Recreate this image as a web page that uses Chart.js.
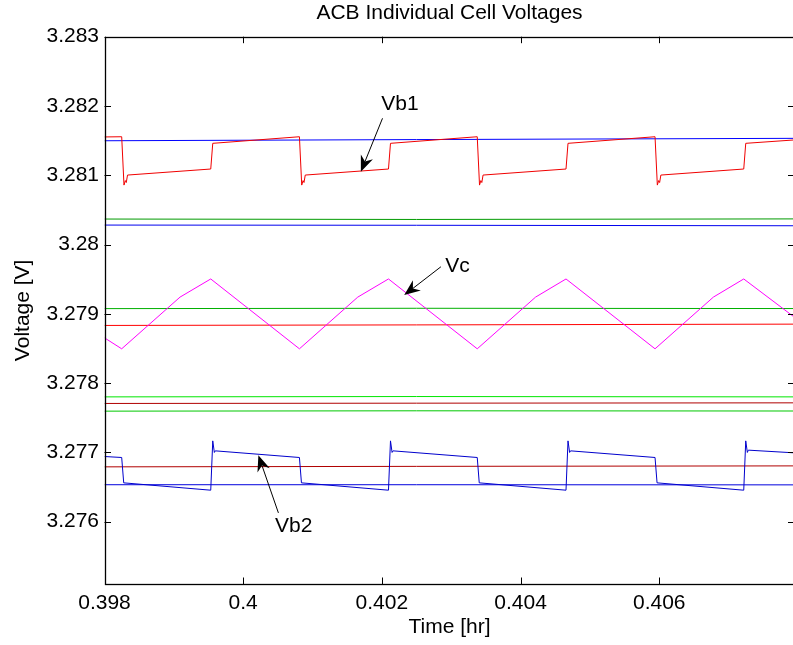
<!DOCTYPE html>
<html>
<head>
<meta charset="utf-8">
<title>ACB Individual Cell Voltages</title>
<script src="https://cdn.jsdelivr.net/npm/chart.js@4/dist/chart.umd.min.js"></script>
<style>
  html, body { margin: 0; padding: 0; background: #fff; overflow: hidden; }
  #cellChart { display: block; }
</style>
</head>
<body>
<canvas id="cellChart" width="800" height="645"></canvas>
<script>
// Ejes
const xTicks = [0.398, 0.4, 0.402, 0.404, 0.406];
const yTicks = [3.276, 3.277, 3.278, 3.279, 3.28, 3.281, 3.282, 3.283];
const xMin = 0.398, xMax = 0.40795;
const yMin = 3.2751, yMax = 3.283;

// Celda Vb1 (diente de sierra superior)
const vb1Time = [0.398, 0.398248, 0.398281, 0.398300, 0.398314, 0.398332, 0.399532, 0.399561,
  0.400811, 0.400844, 0.400863, 0.400877, 0.400895, 0.402095, 0.402124,
  0.403375, 0.403408, 0.403427, 0.403441, 0.403459, 0.404655, 0.404684,
  0.405939, 0.405972, 0.405991, 0.406005, 0.406023, 0.407218, 0.407247, 0.40795];
const vb1Volt = [3.281553, 3.281556, 3.280858, 3.280923, 3.280895, 3.281003, 3.281090, 3.281461,
  3.281556, 3.280858, 3.280923, 3.280895, 3.281003, 3.281090, 3.281461,
  3.281556, 3.280858, 3.280923, 3.280895, 3.281003, 3.281090, 3.281461,
  3.281556, 3.280858, 3.280923, 3.280895, 3.281003, 3.281090, 3.281461, 3.281510];

// Celda Vb2 (diente de sierra inferior)
const vb2Time = [0.398, 0.398248, 0.398277, 0.399532, 0.399561, 0.399584, 0.399598,
  0.400811, 0.400840, 0.402095, 0.402124, 0.402147, 0.402161,
  0.403375, 0.403404, 0.404655, 0.404684, 0.404707, 0.404721,
  0.405939, 0.405968, 0.407218, 0.407247, 0.407270, 0.407284, 0.40795];
const vb2Volt = [3.276940, 3.276926, 3.276560, 3.276454, 3.277166, 3.276999, 3.277022,
  3.276926, 3.276560, 3.276454, 3.277166, 3.276999, 3.277022,
  3.276926, 3.276560, 3.276454, 3.277166, 3.276999, 3.277022,
  3.276926, 3.276560, 3.276454, 3.277166, 3.276999, 3.277032, 3.276993];

// Condensador Vc (triangular)
const vcTime = [0.398, 0.398248, 0.399089, 0.399532, 0.400811, 0.401652, 0.402095,
  0.403375, 0.404216, 0.404655, 0.405939, 0.406780, 0.407218, 0.40795];
const vcVolt = [3.278653, 3.278495, 3.279241, 3.279503, 3.278495, 3.279241, 3.279503,
  3.278495, 3.279241, 3.279503, 3.278495, 3.279241, 3.279503, 3.278950];

// Resto de celdas (casi constantes)
const flatTime = [0.398, 0.4025, 0.40795];
const blueTopVolt = [3.281498, 3.281515, 3.281533];
const green1Volt = [3.280368, 3.280362, 3.280370];
const blue2Volt = [3.280281, 3.280278, 3.280271];
const green2Volt = [3.279075, 3.279080, 3.279076];
const red1Volt = [3.278832, 3.278840, 3.278851];
const green3Volt = [3.277801, 3.277806, 3.277801];
const darkRed1Volt = [3.277706, 3.277710, 3.277715];
const green4Volt = [3.277595, 3.277600, 3.277597];
const darkRed2Volt = [3.276791, 3.276798, 3.276805];
const blue3Volt = [3.276533, 3.276533, 3.276531];

// Etiquetas con flecha: [texto, t texto, V texto, t cola, V cola, t punta, V punta]
const arrowNotes = [
  ['Vb1', 0.401990, 3.281942, 0.402009, 3.281822, 0.401697, 3.281051],
  ['Vc', 0.402914, 3.279607, 0.402851, 3.279679, 0.402322, 3.279270],
  ['Vb2', 0.400460, 3.275852, 0.400508, 3.276126, 0.400219, 3.276960]
];

const FONT = '"Liberation Sans", Arial, Helvetica, sans-serif';
const FS = 21;

function pts(ts, vs) {
  return ts.map((t, i) => ({ x: t, y: vs[i] }));
}

function line(label, ts, vs, color) {
  return {
    label: label,
    data: pts(ts, vs),
    borderColor: color,
    borderWidth: 1,
    pointRadius: 0,
    showLine: true,
    tension: 0
  };
}

const datasets = [
  line('Vc', vcTime, vcVolt, '#ff00ff'),
  line('Vb1', vb1Time, vb1Volt, '#f00000'),
  line('Vb2', vb2Time, vb2Volt, '#0000cc'),
  line('c1', flatTime, blueTopVolt, '#0000ff'),
  line('c2', flatTime, green1Volt, '#009a00'),
  line('c3', flatTime, blue2Volt, '#0000ee'),
  line('c4', flatTime, green2Volt, '#00b000'),
  line('c5', flatTime, red1Volt, '#ff0000'),
  line('c6', flatTime, green3Volt, '#00e600'),
  line('c7', flatTime, darkRed1Volt, '#b00000'),
  line('c8', flatTime, green4Volt, '#00c800'),
  line('c9', flatTime, darkRed2Volt, '#b00000'),
  line('c10', flatTime, blue3Volt, '#0000dd')
];

// Caja del eje, marcas hacia dentro y flechas de anotación
const boxPlugin = {
  id: 'boxPlugin',
  afterDatasetsDraw(chart) {
    const ctx = chart.ctx;
    const a = chart.chartArea;
    const xs = chart.scales.x, ys = chart.scales.y;
    const L = 6.5;
    ctx.save();
    ctx.strokeStyle = '#000';
    ctx.lineWidth = 1;
    ctx.beginPath();
    xTicks.forEach(t => {
      const px = Math.round(xs.getPixelForValue(t)) + 0.5;
      ctx.moveTo(px, a.bottom); ctx.lineTo(px, a.bottom - L);
      ctx.moveTo(px, a.top); ctx.lineTo(px, a.top + L);
    });
    yTicks.forEach(v => {
      const py = Math.round(ys.getPixelForValue(v)) + 0.5;
      ctx.moveTo(a.left, py); ctx.lineTo(a.left + L, py);
      ctx.moveTo(a.right, py); ctx.lineTo(a.right - L, py);
    });
    ctx.stroke();
    ctx.lineWidth = 1.3;
    ctx.strokeRect(Math.round(a.left) + 0.5, Math.round(a.top) + 0.5,
      Math.round(a.right - a.left), Math.round(a.bottom - a.top));

    ctx.fillStyle = '#000';
    ctx.font = FS + 'px ' + FONT;
    ctx.textBaseline = 'alphabetic';
    ctx.textAlign = 'left';
    arrowNotes.forEach(n => {
      const tx = xs.getPixelForValue(n[1]), ty = ys.getPixelForValue(n[2]);
      const x0 = xs.getPixelForValue(n[3]), y0 = ys.getPixelForValue(n[4]);
      const x1 = xs.getPixelForValue(n[5]), y1 = ys.getPixelForValue(n[6]);
      ctx.fillText(n[0], tx, ty);
      const len = Math.hypot(x1 - x0, y1 - y0);
      const ux = (x1 - x0) / len, uy = (y1 - y0) / len;
      const nx = -uy, ny = ux;
      const hl = 16, hw = 6.5, notch = 5;
      ctx.lineWidth = 1;
      ctx.beginPath();
      ctx.moveTo(x0, y0);
      ctx.lineTo(x1 - ux * (hl - notch), y1 - uy * (hl - notch));
      ctx.stroke();
      ctx.beginPath();
      ctx.moveTo(x1, y1);
      ctx.lineTo(x1 - ux * hl + nx * hw, y1 - uy * hl + ny * hw);
      ctx.lineTo(x1 - ux * (hl - notch), y1 - uy * (hl - notch));
      ctx.lineTo(x1 - ux * hl - nx * hw, y1 - uy * hl - ny * hw);
      ctx.closePath();
      ctx.fill();
    });
    ctx.restore();
  }
};

Chart.defaults.color = '#000';
Chart.defaults.font.family = FONT;
Chart.defaults.font.size = FS;

const cellChart = new Chart(document.getElementById('cellChart'), {
  type: 'scatter',
  data: { datasets: datasets },
  options: {
    responsive: false,
    animation: false,
    events: [],
    layout: { padding: { left: 0, right: 5.5, top: 0, bottom: 0 } },
    plugins: {
      legend: { display: false },
      tooltip: { enabled: false },
      title: {
        display: true,
        fullSize: false,
        text: 'ACB Individual Cell Voltages',
        color: '#000',
        font: { size: FS, weight: 'normal', family: FONT },
        padding: { top: 1, bottom: 10.5 }
      }
    },
    scales: {
      x: {
        type: 'linear',
        min: xMin,
        max: xMax,
        afterBuildTicks: s => { s.ticks = xTicks.map(v => ({ value: v })); },
        afterFit: s => { s.height = 61; },
        ticks: {
          autoSkip: false,
          maxRotation: 0,
          padding: 7.1,
          font: { size: FS },
          callback: v => String(+v.toFixed(3))
        },
        grid: { display: false, drawTicks: false },
        border: { display: false },
        title: {
          display: true,
          text: 'Time [hr]',
          font: { size: FS },
          padding: { top: 0, bottom: 5.4 }
        }
      },
      y: {
        type: 'linear',
        min: yMin,
        max: yMax,
        afterBuildTicks: s => { s.ticks = yTicks.map(v => ({ value: v })); },
        afterFit: s => { s.width = 104.5; },
        ticks: {
          autoSkip: false,
          padding: 5.5,
          font: { size: FS },
          callback: v => String(+v.toFixed(3))
        },
        grid: { display: false, drawTicks: false },
        border: { display: false },
        title: {
          display: true,
          text: 'Voltage [V]',
          font: { size: FS },
          padding: { top: 10.9, bottom: 0 }
        }
      }
    }
  },
  plugins: [boxPlugin]
});
</script>
</body>
</html>
